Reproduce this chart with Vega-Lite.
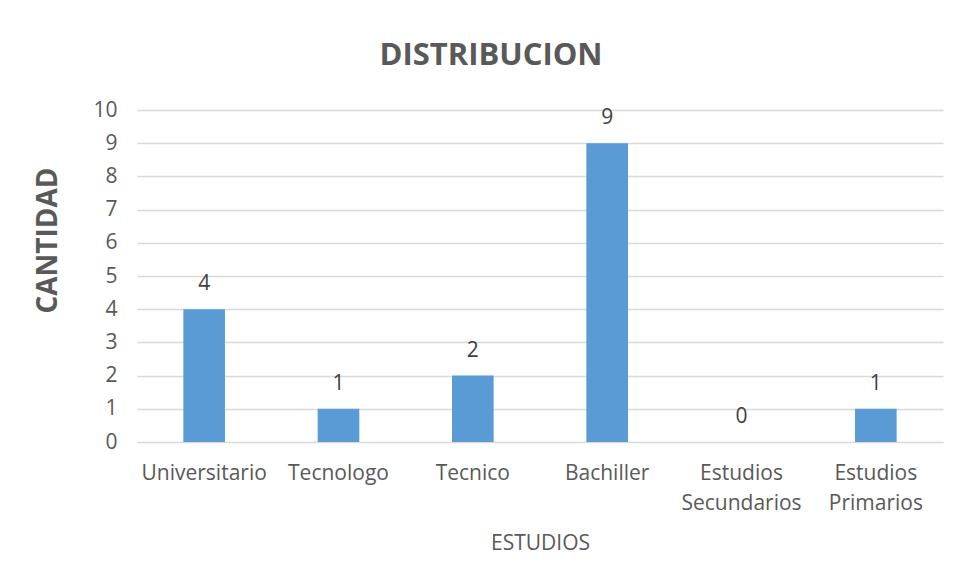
{
  "$schema": "https://vega.github.io/schema/vega-lite/v6.json",
  "width": 806,
  "height": 332,
  "autosize": {"type": "none"},
  "padding": {"left": 137, "top": 110, "right": 14, "bottom": 141},
  "background": "white",
  "title": {
    "text": "DISTRIBUCION",
    "font": "Open Sans",
    "fontSize": 31,
    "fontWeight": "bold",
    "color": "#595959",
    "anchor": "middle",
    "dx": -49,
    "offset": 27
  },
  "data": {
    "values": [
      {"estudio": "Universitario", "cantidad": 4},
      {"estudio": "Tecnologo", "cantidad": 1},
      {"estudio": "Tecnico", "cantidad": 2},
      {"estudio": "Bachiller", "cantidad": 9},
      {"estudio": "Estudios Secundarios", "cantidad": 0},
      {"estudio": "Estudios Primarios", "cantidad": 1}
    ]
  },
  "encoding": {
    "x": {
      "field": "estudio",
      "type": "nominal",
      "sort": null,
      "scale": {"paddingInner": 0.69, "paddingOuter": 0.345},
      "axis": {
        "title": "ESTUDIOS",
        "titleFont": "Open Sans",
        "titleFontSize": 21,
        "titleFontWeight": "normal",
        "titleColor": "#595959",
        "titlePadding": 19,
        "labelAngle": 0,
        "labelFont": "Open Sans",
        "labelFontSize": 21,
        "labelColor": "#595959",
        "labelPadding": 20,
        "labelLineHeight": 30,
        "labelOverlap": false,
        "labelExpr": "indexof(datum.label, 'Estudios') == 0 ? split(datum.label, ' ') : datum.label",
        "ticks": false,
        "domain": false
      }
    },
    "y": {
      "field": "cantidad",
      "type": "quantitative",
      "scale": {"domain": [0, 10]},
      "axis": {
        "title": "CANTIDAD",
        "titleFont": "Open Sans",
        "titleFontSize": 28,
        "titleFontWeight": "bold",
        "titleColor": "#595959",
        "titlePadding": 30,
        "titleY": 130,
        "values": [0,1,2,3,4,5,6,7,8,9,10],
        "labelOverlap": false,
        "labelFont": "Open Sans",
        "labelFontSize": 21,
        "labelColor": "#595959",
        "labelPadding": 20,
        "ticks": false,
        "domain": false,
        "gridColor": "#d9d9d9",
        "gridWidth": 1.5
      }
    }
  },
  "layer": [
    {"mark": {"type": "bar", "color": "#5b9bd5"}},
    {
      "mark": {"type": "text", "dy": -25, "font": "Open Sans", "fontSize": 21, "color": "#404040"},
      "encoding": {"text": {"field": "cantidad", "type": "quantitative"}}
    }
  ],
  "config": {"view": {"stroke": null}}
}
